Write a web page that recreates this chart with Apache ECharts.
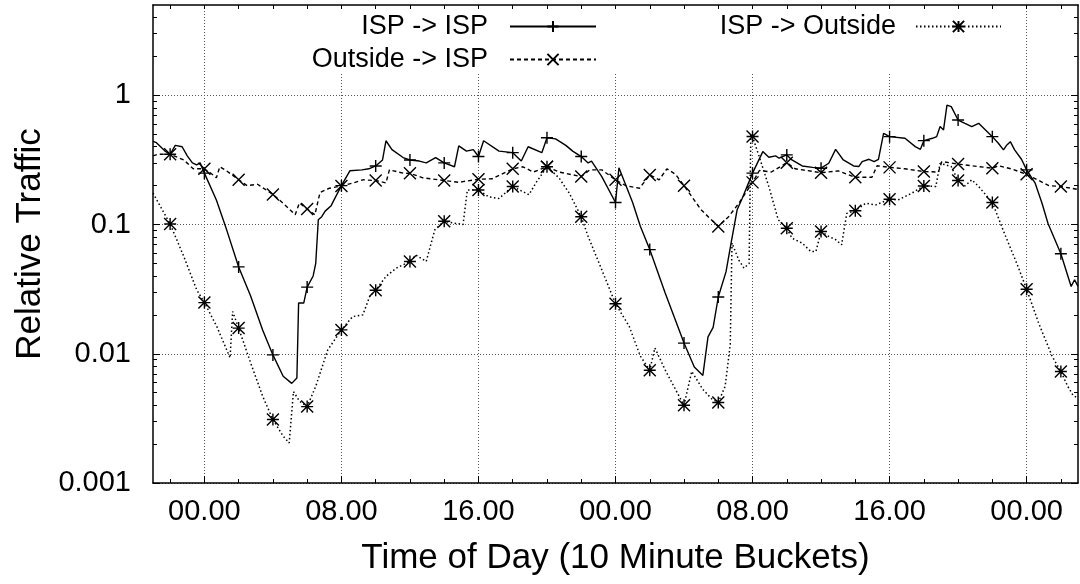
<!DOCTYPE html>
<html>
<head>
<meta charset="utf-8">
<script src="https://cdn.jsdelivr.net/npm/echarts@6/dist/echarts.min.js"></script>
<style>
html,body{margin:0;padding:0;background:#fff;}
#chart{width:1080px;height:584px;}
</style>
</head>
<body>
<div id="chart"></div>
<script>
// ---- data (x = hours from first midnight, y = relative traffic) ----
const ispToIsp = [
  [-3,0.44],[-2.8,0.43],[-2.3,0.37],[-2,0.35],[-1.7,0.41],[-1.3,0.40],[-1.0,0.34],[-0.7,0.30],[-0.45,0.29],[-0.25,0.30],
  [0,0.25],[0.7,0.155],[1.3,0.091],[2,0.047],[2.7,0.028],[3.4,0.0153],[4,0.0098],[4.6,0.0067],[5.1,0.0059],[5.4,0.0065],
  [5.5,0.0247],[5.8,0.0247],[6,0.0328],[6.35,0.040],[6.5,0.05],[6.65,0.109],[6.85,0.115],[7.05,0.127],[7.4,0.14],[7.6,0.158],
  [8,0.2],[8.5,0.261],[9.2,0.265],[9.6,0.27],[10,0.284],[10.4,0.316],[10.6,0.445],[10.95,0.38],[11.6,0.33],[12,0.316],
  [12.55,0.31],[12.95,0.30],[13.5,0.33],[14,0.30],[14.6,0.28],[14.85,0.406],[15.3,0.37],[15.7,0.38],[16,0.336],[16.3,0.445],
  [17.2,0.37],[18,0.36],[18.5,0.31],[18.9,0.40],[19.7,0.36],[20,0.47],[20.5,0.46],[21.1,0.41],[21.5,0.37],[22,0.336],
  [22.4,0.30],[22.6,0.31],[23.2,0.235],[24,0.148],[24.2,0.275],[25,0.148],[25.45,0.097],[26,0.064],[26.9,0.0295],[28,0.0121],
  [28.6,0.0079],[29.1,0.0068],[29.4,0.0135],[29.7,0.016],[30,0.0275],[30.45,0.043],[30.75,0.072],[31.1,0.13],[31.4,0.16],[32,0.25],
  [32.6,0.367],[32.95,0.332],[33.35,0.34],[33.55,0.326],[34,0.346],[34.3,0.316],[34.9,0.284],[35.5,0.277],[36,0.273],[36.45,0.298],
  [36.85,0.382],[37.3,0.316],[37.9,0.284],[38.2,0.281],[38.4,0.307],[38.8,0.32],[39.1,0.307],[39.35,0.32],[39.65,0.508],[40,0.479],
  [40.9,0.465],[41.5,0.401],[41.8,0.382],[42,0.446],[42.5,0.465],[42.75,0.479],[42.95,0.573],[43.15,0.54],[43.35,0.84],[43.6,0.817],
  [44,0.644],[44.4,0.607],[44.8,0.573],[45.2,0.607],[45.6,0.54],[46,0.479],[46.35,0.426],[46.65,0.378],[46.85,0.413],[47.05,0.438],
  [47.3,0.378],[47.7,0.32],[48,0.265],[48.5,0.209],[48.9,0.146],[49.25,0.102],[50,0.0594],[50.6,0.0332],[50.8,0.0374],[51,0.0332]
];
const outsideToIsp = [
  [-3,0.34],[-2.7,0.35],[-2,0.35],[-1.2,0.316],[-0.65,0.27],[0,0.27],[0.45,0.245],[0.7,0.23],[0.9,0.28],[1.3,0.26],
  [2,0.222],[2.5,0.20],[3.1,0.205],[4,0.171],[4.6,0.146],[5.3,0.119],[5.55,0.147],[6,0.132],[6.45,0.119],[6.75,0.177],
  [7.3,0.191],[8,0.199],[8.7,0.21],[9.25,0.222],[10,0.219],[10.6,0.21],[10.8,0.265],[11.6,0.25],[12,0.249],[12.75,0.23],
  [14,0.219],[14.9,0.212],[15.1,0.215],[16,0.224],[16.8,0.226],[18,0.27],[18.6,0.28],[19.2,0.255],[20,0.28],[20.7,0.255],
  [22,0.235],[22.5,0.265],[23.2,0.265],[24,0.222],[24.6,0.2],[25.4,0.191],[26,0.242],[26.55,0.222],[27,0.27],[27.5,0.245],
  [28,0.2],[29,0.13],[30,0.0966],[30.6,0.115],[31.2,0.146],[32,0.212],[32.4,0.262],[33.1,0.255],[34,0.301],[34.5,0.27],
  [36,0.252],[37,0.26],[38,0.232],[38.97,0.232],[39.27,0.285],[40,0.277],[40.9,0.27],[42,0.257],[42.85,0.255],[43.05,0.307],
  [44,0.294],[44.8,0.285],[46,0.273],[46.35,0.285],[47.1,0.27],[48,0.245],[49.3,0.2],[50,0.197],[51,0.187]
];
const ispToOutside = [
  [-3,0.175],[-2,0.101],[-1.2,0.0565],[-0.45,0.0313],[0,0.0249],[0.72,0.0163],[1.5,0.0093],[1.65,0.0212],[2,0.0158],[2.7,0.0085],
  [3.4,0.0047],[4,0.0031],[4.6,0.0023],[4.95,0.00204],[5.2,0.0051],[5.55,0.0043],[6,0.0039],[6.5,0.0056],[7.2,0.0107],[8,0.0153],
  [8.65,0.0194],[9.25,0.02],[9.65,0.0278],[10,0.031],[10.6,0.0397],[11.2,0.046],[12,0.0518],[12.35,0.058],[12.95,0.0518],[13.45,0.091],
  [14,0.106],[14.5,0.103],[15.1,0.1],[15.35,0.185],[16,0.185],[16.6,0.164],[17.2,0.159],[18,0.197],[18.95,0.17],[19.35,0.21],
  [20,0.28],[20.7,0.23],[21.3,0.175],[22,0.115],[22.4,0.081],[23.2,0.0447],[24,0.0244],[24.8,0.0163],[25.45,0.0096],[26,0.00745],
  [26.3,0.0111],[26.9,0.0075],[27.5,0.0053],[28,0.0040],[28.45,0.0073],[29.1,0.0053],[29.6,0.0045],[30,0.0042],[30.4,0.0056],[30.7,0.0118],
  [30.8,0.072],[31.2,0.053],[31.5,0.046],[31.8,0.05],[31.9,0.5],[32,0.48],[32.4,0.332],[32.95,0.197],[33.5,0.109],[34,0.0937],
  [34.3,0.0785],[34.9,0.0718],[35.4,0.0619],[35.7,0.0619],[36,0.0883],[36.45,0.081],[36.85,0.0765],[37.2,0.0697],[37.5,0.122],[38,0.128],
  [38.6,0.146],[39.2,0.142],[40,0.157],[40.5,0.155],[41.3,0.175],[42,0.199],[42.7,0.197],[42.95,0.298],[43.6,0.281],[44,0.219],
  [44.4,0.199],[44.8,0.222],[45.2,0.197],[46,0.148],[46.7,0.0858],[47.5,0.0473],[48,0.0316],[48.7,0.0173],[49.5,0.0095],[50,0.0073],
  [50.4,0.0056],[50.7,0.0048],[51,0.0045]
];
const seriesNames = ['ISP -> ISP', 'Outside -> ISP', 'ISP -> Outside'];
const xLabelHours = [0, 8, 16, 24, 32, 40, 48];
const xLabelTexts = ['00.00', '08.00', '16.00', '00.00', '08.00', '16.00', '00.00'];
const xMinorHours = [-2,0,2,4,6,8,10,12,14,16,18,20,22,24,26,28,30,32,34,36,38,40,42,44,46,48,50];
const yDecades = [0.001, 0.01, 0.1, 1];
const yDecadeLabels = ['0.001', '0.01', '0.1', '1'];
const yMinor = [0.002,0.003,0.004,0.005,0.006,0.007,0.008,0.009,0.02,0.03,0.04,0.05,0.06,0.07,0.08,0.09,
                0.2,0.3,0.4,0.5,0.6,0.7,0.8,0.9,2,3,4];

// ---- styling ----
const FONT = 'Liberation Sans, Arial, Helvetica, sans-serif';
const PLUS = 'path://M0,5L10,5M5,0L5,10';
const CROSS = 'path://M0,0L10,10M0,10L10,0';
const STAR = 'path://M0,5L10,5M5,0L5,10M0,0L10,10M0,10L10,0';
const gridLine = {show: true, lineStyle: {color: '#555', width: 1, type: [1, 2]}};

function withMarkers(pts) {
  return pts.map(p => (Number.isInteger(p[0]) && p[0] % 2 === 0) ? {value: p} : {value: p, symbol: 'none'});
}
function mkSeries(name, pts, sym, dash, lw) {
  return {
    name: name, type: 'line', xAxisIndex: 0, yAxisIndex: 0,
    data: withMarkers(pts),
    symbol: sym, symbolSize: 12, showSymbol: true, showAllSymbol: true,
    lineStyle: {color: '#000', width: lw, type: dash},
    itemStyle: {color: '#000', borderColor: '#000', borderWidth: 1.4},
    emphasis: {disabled: true}, silent: true, animation: false
  };
}

const chart = echarts.init(document.getElementById('chart'), null, {renderer: 'canvas'});
const axisLineStyle = {show: true, onZero: false, lineStyle: {color: '#000', width: 1.5}};
const noLine = {show: false, onZero: false};
const option = {
  backgroundColor: '#fff',
  animation: false,
  grid: {left: 153, right: 2, top: 5, bottom: 101, containLabel: false},
  xAxis: [
    { type: 'value', position: 'bottom', min: -3, max: 51,
      axisLine: axisLineStyle,
      axisTick: {show: true, inside: true, length: 4, customValues: xMinorHours, lineStyle: {color: '#000'}},
      axisLabel: {show: true, customValues: xLabelHours, margin: 14, fontSize: 29, color: '#000', fontFamily: FONT,
        formatter: v => { const i = xLabelHours.indexOf(Math.round(v)); return i >= 0 ? xLabelTexts[i] : ''; }},
      splitLine: {show: false},
      name: 'Time of Day (10 Minute Buckets)', nameLocation: 'middle', nameGap: 58,
      nameTextStyle: {fontSize: 35, color: '#000', fontFamily: FONT}
    },
    { type: 'value', position: 'bottom', min: -3, max: 51,
      axisLine: noLine,
      axisTick: {show: true, inside: true, length: 7, customValues: xLabelHours, lineStyle: {color: '#000'}},
      axisLabel: {show: false}, splitLine: gridLine
    },
    { type: 'value', position: 'top', min: -3, max: 51,
      axisLine: axisLineStyle,
      axisTick: {show: true, inside: true, length: 4, customValues: xMinorHours, lineStyle: {color: '#000'}},
      axisLabel: {show: false}, splitLine: {show: false}
    }
  ],
  yAxis: [
    { type: 'log', logBase: 10, position: 'left', min: 0.001, max: 5,
      axisLine: axisLineStyle,
      axisTick: {show: true, inside: true, length: 7, customValues: yDecades, lineStyle: {color: '#000'}},
      axisLabel: {show: true, customValues: yDecades, margin: 22, fontSize: 29, color: '#000', fontFamily: FONT,
        formatter: v => { for (let i = 0; i < yDecades.length; i++) { if (Math.abs(v / yDecades[i] - 1) < 1e-6) return yDecadeLabels[i]; } return ''; }},
      splitLine: gridLine,
      name: 'Relative Traffic', nameLocation: 'middle', nameGap: 100,
      nameTextStyle: {fontSize: 35, color: '#000', fontFamily: FONT}
    },
    { type: 'log', logBase: 10, position: 'left', min: 0.001, max: 5,
      axisLine: noLine,
      axisTick: {show: true, inside: true, length: 4, customValues: yMinor, lineStyle: {color: '#000'}},
      axisLabel: {show: false}, splitLine: {show: false}
    },
    { type: 'log', logBase: 10, position: 'right', min: 0.001, max: 5,
      axisLine: axisLineStyle,
      axisTick: {show: true, inside: true, length: 4, customValues: yMinor, lineStyle: {color: '#000'}},
      axisLabel: {show: false}, splitLine: {show: false}
    },
    { type: 'log', logBase: 10, position: 'right', min: 0.001, max: 5,
      axisLine: noLine,
      axisTick: {show: true, inside: true, length: 7, customValues: yDecades, lineStyle: {color: '#000'}},
      axisLabel: {show: false}, splitLine: {show: false}
    }
  ],
  graphic: [
    {type: 'rect', shape: {x: 300, y: 11, width: 712, height: 63}, style: {fill: '#fff'}, z: 1, silent: true}
  ],
  legend: [
    { data: [seriesNames[0], seriesNames[1]], orient: 'vertical', align: 'right', right: 483, top: 13,
      itemWidth: 86, itemHeight: 14, itemGap: 6, padding: 0, selectedMode: false,
      textStyle: {fontSize: 27, color: '#000', fontFamily: FONT, padding: [0, 17, 0, 0]} },
    { data: [seriesNames[2]], orient: 'vertical', align: 'right', right: 78, top: 13,
      itemWidth: 85, itemHeight: 14, itemGap: 6, padding: 0, selectedMode: false,
      textStyle: {fontSize: 27, color: '#000', fontFamily: FONT, padding: [0, 15, 0, 0]} }
  ],
  series: [
    mkSeries(seriesNames[0], ispToIsp, PLUS, 'solid', 1.4),
    mkSeries(seriesNames[1], outsideToIsp, CROSS, [4, 3], 1.4),
    mkSeries(seriesNames[2], ispToOutside, STAR, [1.5, 2.5], 1.5)
  ]
};
chart.setOption(option);
</script>
</body>
</html>
